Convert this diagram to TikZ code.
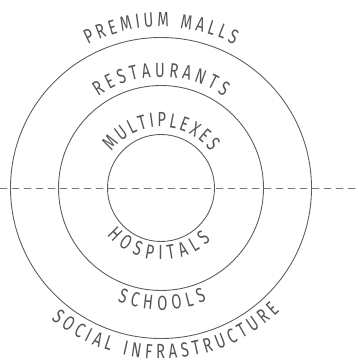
\documentclass[tikz,border=0pt]{standalone}
\usepackage{fontspec}
\newfontfamily\ringfont{Fira Sans}[FakeStretch=0.72]
\usepackage{tikz}
\usetikzlibrary{decorations.text}
\usetikzlibrary{calc}

\definecolor{ringgray}{HTML}{5E5E5E}
\definecolor{textgray}{HTML}{555555}

\tikzset{
  ring/.style={draw=ringgray,line width=0.9pt},
  axisline/.style={draw=ringgray!85,line width=0.9pt,dash pattern=on 7pt off 5pt},
  ringlabel/.style={decorate,decoration={text along path,text align={fit to path},text color=textgray,
      text={|\ringfont\fontsize{20.5}{22}\selectfont|#1}}}
}

\begin{document}
\begin{tikzpicture}[line cap=round,line join=round,x=1pt,y=1pt]
      \useasboundingbox (-161,-173) rectangle (196,188);
      \coordinate (centre) at (0,0);
      \coordinate (west) at (-161,0);
      \coordinate (east) at (196,0);
      \draw[axisline] (west) -- (east);
      \draw[ring] (centre) circle[radius=150.5pt];
      \draw[ring] (centre) circle[radius=102.5pt];
      \draw[ring] (centre) circle[radius=53.5pt];
      % labels above the axis
      \path[ringlabel=PREMIUM MALLS] (117:161pt) arc[start angle=117,end angle=63,radius=161pt];
      \path[ringlabel=RESTAURANTS] (124.5:111pt) arc[start angle=124.5,end angle=55.5,radius=111pt];
      \path[ringlabel=MULTIPLEXES] (144:61pt) arc[start angle=144,end angle=36,radius=61pt];
      % labels below the axis
      \path[ringlabel=HOSPITALS] (221:72pt) arc[start angle=221,end angle=314,radius=72pt];
      \path[ringlabel=SCHOOLS] (249:122pt) arc[start angle=249,end angle=292,radius=122pt];
      \path[ringlabel=SOCIAL INFRASTRUCTURE] (230:171pt) arc[start angle=230,end angle=314,radius=171pt];
\end{tikzpicture}
\end{document}
